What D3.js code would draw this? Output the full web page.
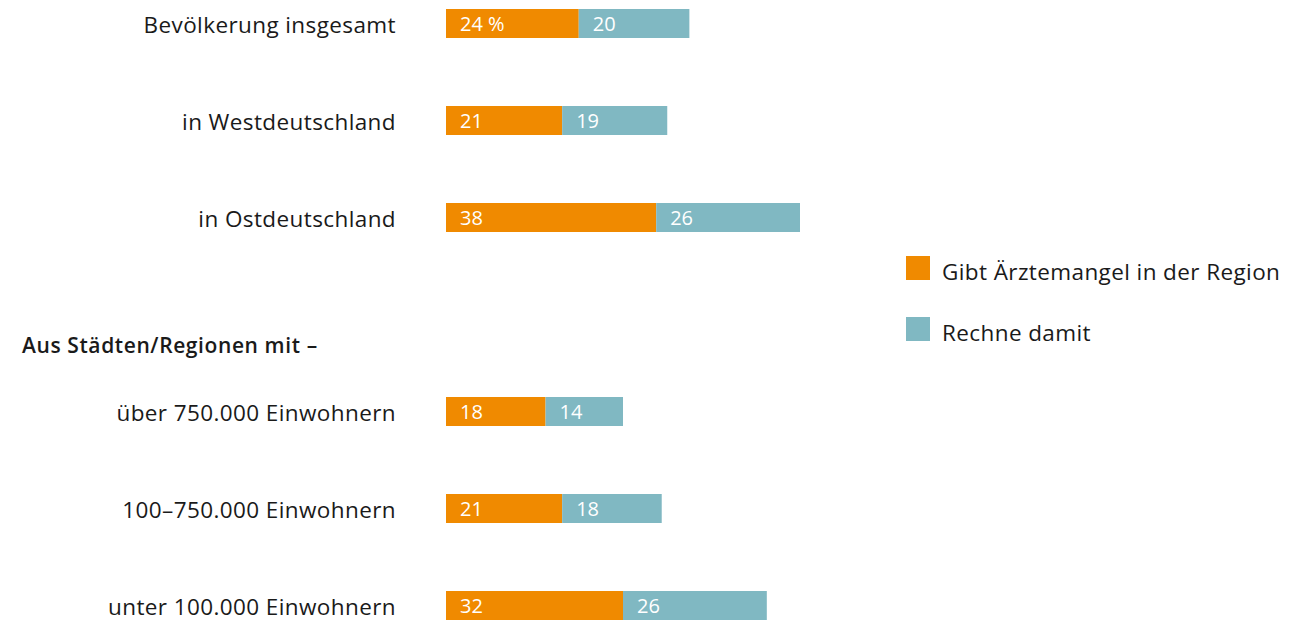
<!DOCTYPE html>
<html>
<head>
<meta charset="utf-8">
<script src="https://cdn.jsdelivr.net/npm/d3@7"></script>
<style>
  body { margin: 0; background: #fff; }
  text { font-family: "Open Sans", "Noto Sans", sans-serif; }
</style>
</head>
<body>
<svg id="chart" width="1289" height="620"></svg>
<script>
// rows, top to bottom ("gap" is the slot holding the sub heading)
const rows = ["Bevölkerung insgesamt", "in Westdeutschland", "in Ostdeutschland", "gap",
              "über 750.000 Einwohnern", "100–750.000 Einwohnern", "unter 100.000 Einwohnern"];
const categories = rows.filter(r => r !== "gap");
const mangel = [24, 21, 38, 18, 21, 32];   // Gibt Ärztemangel in der Region
const rechne = [20, 19, 26, 14, 18, 26];   // Rechne damit
const seriesNames = ["Gibt Ärztemangel in der Region", "Rechne damit"];
const colors = ["#f08a00", "#80b8c2"];
const heading = "Aus Städten/Regionen mit –";

const svg = d3.select("#chart");

const x = d3.scaleLinear().domain([0, 64]).range([446, 800]);
const y = d3.scaleBand().domain(rows).range([9, 9 + 97 * rows.length]).padding(0);
const barH = 29;

const data = categories.map((c, i) => ({ cat: c, vals: [mangel[i], rechne[i]] }));

// category labels
svg.selectAll("text.cat")
  .data(data)
  .enter().append("text")
  .attr("class", "cat")
  .attr("x", 396)
  .attr("y", d => y(d.cat) + barH / 2 + 9)
  .attr("text-anchor", "end")
  .attr("font-size", 22.5)
  .attr("letter-spacing", 0.4)
  .attr("fill", "#1a1a1a")
  .text(d => d.cat);

// sub heading
svg.append("text")
  .attr("x", 22)
  .attr("y", y("gap") + 53)
  .attr("font-size", 21)
  .attr("font-weight", 600)
  .attr("letter-spacing", 0.6)
  .attr("fill", "#1a1a1a")
  .text(heading);

// stacked bars
data.forEach((d, i) => {
  let start = 0;
  d.vals.forEach((v, j) => {
    const g = svg.append("g");
    g.append("rect")
      .attr("x", x(start))
      .attr("y", y(d.cat))
      .attr("width", x(start + v) - x(start))
      .attr("height", barH)
      .attr("fill", colors[j]);
    g.append("text")
      .attr("x", x(start) + 14)
      .attr("y", y(d.cat) + barH / 2 + 7)
      .attr("font-size", 20)
      .attr("fill", "#fff")
      .text(i === 0 && j === 0 ? v + " %" : v);
    start += v;
  });
});

// legend
const legend = svg.append("g").attr("transform", "translate(906,256)");
seriesNames.forEach((s, j) => {
  legend.append("rect")
    .attr("x", 0).attr("y", j * 61)
    .attr("width", 24).attr("height", 24)
    .attr("fill", colors[j]);
  legend.append("text")
    .attr("x", 36).attr("y", j * 61 + 24)
    .attr("font-size", 22.5)
    .attr("letter-spacing", 0.4)
    .attr("fill", "#1a1a1a")
    .text(s);
});
</script>
</body>
</html>
